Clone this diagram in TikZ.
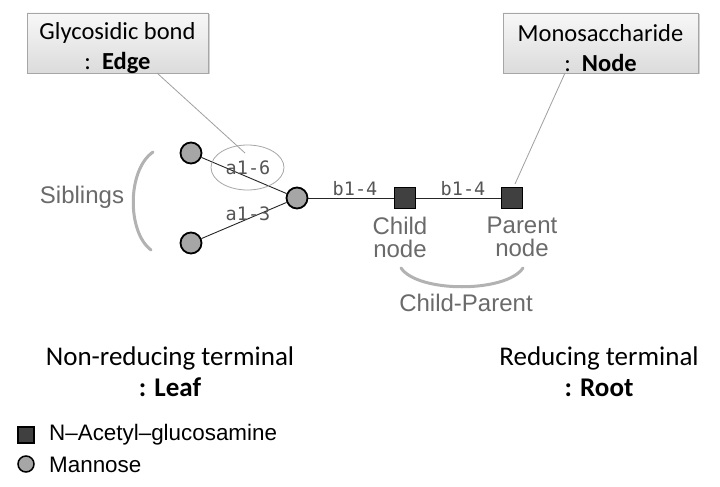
\documentclass[tikz,border=0pt]{standalone}
\usepackage{fontspec}
\setmainfont{Carlito}
\newfontfamily\arialf{Liberation Sans}
\newfontfamily\monof{DejaVu Sans Mono}
\usetikzlibrary{shadows,shapes.geometric}
\definecolor{lblgray}{HTML}{6A6A6A}
\definecolor{bondgray}{HTML}{555555}
\begin{document}
\begin{tikzpicture}[x=1pt,y=-1pt,
  callout/.style={draw=gray!70, line width=0.8pt, top color=gray!6, bottom color=gray!28,
    drop shadow={opacity=0.35, shadow xshift=1.5pt, shadow yshift=-1.5pt},
    minimum height=60pt, inner sep=0pt},
  callouttext/.style={align=center, inner sep=0pt, font=\fontsize{24.5}{30}\selectfont},
  man/.style={circle, draw=black, line width=1.8pt, fill=gray!70, minimum size=21pt, inner sep=0pt},
  glc/.style={rectangle, draw=black, line width=1.8pt, fill=black!75, minimum size=21pt, inner sep=0pt},
  bond/.style={text=bondgray, font=\monof\fontsize{18.5}{20}\selectfont, inner sep=0pt},
  glbl/.style={text=lblgray, font=\arialf\fontsize{24}{23}\selectfont, align=center, inner sep=0pt},
  term/.style={align=center, font=\fontsize{27}{31}\selectfont, inner sep=0pt},
  leader/.style={draw=gray!75, line width=0.8pt},
  link/.style={draw=black!85, line width=0.9pt},
  arcline/.style={draw=gray!60, line width=3pt, line cap=round}
]
\useasboundingbox (0,0) rectangle (720,487);
\fill[white] (0,0) rectangle (720,487);

% callout boxes
\node[callout, minimum width=181pt] (edgebox) at (117.5,43) {};
\node[callouttext] (edgetxt) at (117.5,48) {Glycosidic bond\\:\ \ \textbf{Edge}};
\node[callout, minimum width=195pt] (nodebox) at (600.5,43) {};
\node[callouttext] (nodetxt) at (600.5,48) {Monosaccharide\\:\ \ \textbf{Node}};

% glycan
\node[man] (m1) at (191,153) {};
\node[man] (m2) at (191,243) {};
\node[man] (m3) at (297,198) {};
\node[glc] (g1) at (405,198) {};
\node[glc] (g2) at (512,198) {};

\draw[link] (m1) -- (m3);
\draw[link] (m2) -- (m3);
\draw[link] (m3) -- (g1);
\draw[link] (g1) -- (g2);

\node[draw=gray!70, line width=0.8pt, ellipse, minimum width=73pt, minimum height=45pt] (ell) at (247.5,167.5) {};
\node[bond] (l16) at (248,168) {a1-6};
\node[bond] (l13) at (248,214) {a1-3};
\node[bond] (l14a) at (355,189) {b1-4};
\node[bond] (l14b) at (463,189) {b1-4};

% leaders
\coordinate (e1) at (157,73);
\coordinate (e2) at (245,153);
\draw[leader] (e1) -- (e2);
\coordinate (n1) at (565,73);
\coordinate (n2) at (515,184);
\draw[leader] (n1) -- (n2);

% siblings
\node[glbl] (sib) at (82,197) {Siblings};
\coordinate (pa) at (153,152);
\coordinate (pb) at (151,250);
\draw[arcline] (pa) .. controls (127,170) and (127,232) .. (pb);

% child / parent
\node[glbl] (child) at (400,237) {Child\\node};
\node[glbl] (parent) at (522,237) {Parent\\node};
\coordinate (ba) at (401,268);
\coordinate (bb) at (523,268);
\draw[arcline] (ba) .. controls (418,293) and (506,293) .. (bb);
\node[glbl] (cp) at (466,303) {Child-Parent};

% terminals
\node[term] (leaf) at (170,372) {Non-reducing terminal\\\textbf{: Leaf}};
\node[term] (root) at (599,372) {Reducing terminal\\\textbf{: Root}};

% legend
\node[rectangle, draw=black, line width=1.5pt, fill=black!75, minimum size=16pt, inner sep=0pt] (lg1) at (26,435) {};
\node[circle, draw=black, line width=1.5pt, fill=gray!70, minimum size=16pt, inner sep=0pt] (lg2) at (26,464) {};
\node[anchor=west, inner sep=0pt, font=\arialf\fontsize{22.4}{22}\selectfont] (lt1) at (49,435) {N–Acetyl–glucosamine};
\node[anchor=west, inner sep=0pt, font=\arialf\fontsize{22.4}{22}\selectfont] (lt2) at (49,465) {Mannose};
\end{tikzpicture}
\end{document}
